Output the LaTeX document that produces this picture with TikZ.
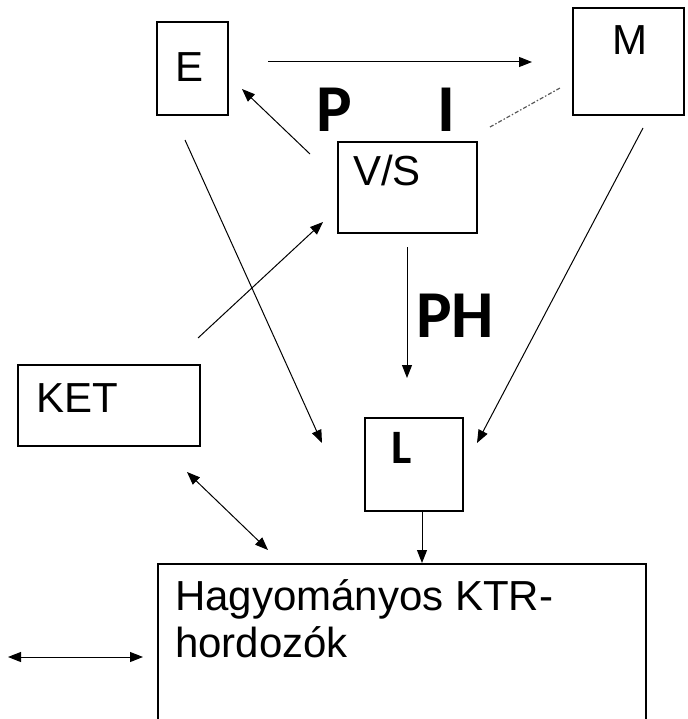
\documentclass[tikz,border=0pt]{standalone}
\usepackage{fontspec}
\setmainfont{Liberation Sans}
\newfontfamily\calib{Carlito}
\usetikzlibrary{arrows.meta}
\begin{document}
\begin{tikzpicture}[x=1pt,y=-1pt,
  frame/.style={draw,line width=1.8pt,inner sep=0pt,anchor=north west},
  lbl/.style={anchor=base west,inner sep=0pt,font=\fontsize{42}{47}\selectfont},
  lblL/.style={anchor=base west,inner sep=0pt,font=\calib\bfseries\fontsize{48}{48}\selectfont},
  big/.style={anchor=base west,inner sep=0pt,font=\calib\bfseries\fontsize{67}{67}\selectfont},
  conn/.style={line width=1pt,-{Triangle[length=13pt,width=10pt]}},
  both/.style={line width=1pt,{Triangle[length=13pt,width=10pt]}-{Triangle[length=13pt,width=10pt]}},
  dd/.style={line width=1.2pt,black!65,dash pattern=on 4pt off 2pt on 1.5pt off 2pt}
]
\useasboundingbox (0,0) rectangle (687,719);
\clip (0,0) rectangle (687,719);

% boxes
\node[frame,minimum width=71pt,minimum height=93pt] (E) at (156,21) {};
\node[frame,minimum width=111pt,minimum height=107pt] (M) at (572,7) {};
\node[frame,minimum width=139pt,minimum height=91pt] (VS) at (337,141) {};
\node[frame,minimum width=182pt,minimum height=81pt] (KET) at (17,364) {};
\node[frame,minimum width=98pt,minimum height=93pt] (L) at (364,417) {};
\node[frame,minimum width=488pt,minimum height=180pt] (H) at (157,563) {};

% texts
\node[lbl] (Et) at (175,82) {E};
\node[lbl] (Mt) at (612,55) {M};
\node[lbl] (VSt) at (353,186) {V/S};
\node[lbl] (KETt) at (36,412) {KET};
\node[lblL] (Lt) at (391,463) {L};
\node[lbl] (H1) at (175,610) {Hagyományos KTR-};
\node[lbl] (H2) at (175,657) {hordozók};
\node[big] (P) at (316,132) {P};
\node[big] (I) at (437,132) {I};
\node[big] (PH) at (416,337) {PH};

% connector end points
\coordinate (em1) at (268,62);
\coordinate (em2) at (532,62);
\coordinate (ve1) at (310,154);
\coordinate (ve2) at (242,89);
\coordinate (el1) at (185,140);
\coordinate (el2) at (322,443);
\coordinate (kv1) at (198,338);
\coordinate (kv2) at (323,222);
\coordinate (vl1) at (407,247);
\coordinate (vl2) at (407,378);
\coordinate (ml1) at (643,128);
\coordinate (ml2) at (477,443);
\coordinate (lh1) at (422,510);
\coordinate (lh2) at (422,563);
\coordinate (kh1) at (187,472);
\coordinate (kh2) at (268,550);
\coordinate (xl1) at (8,657);
\coordinate (xl2) at (143,657);
\coordinate (dm1) at (490,127);
\coordinate (dm2) at (560,88);

% connectors
\draw[conn] (em1) -- (em2);
\draw[conn] (ve1) -- (ve2);
\draw[conn] (el1) -- (el2);
\draw[conn] (kv1) -- (kv2);
\draw[conn] (vl1) -- (vl2);
\draw[conn] (ml1) -- (ml2);
\draw[conn] (lh1) -- (lh2);
\draw[both] (kh1) -- (kh2);
\draw[both] (xl1) -- (xl2);
\draw[dd] (dm1) -- (dm2);
\end{tikzpicture}
\end{document}
